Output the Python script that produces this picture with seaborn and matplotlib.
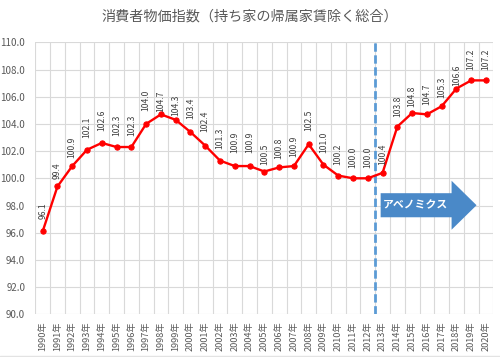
import matplotlib
matplotlib.use("Agg")
import matplotlib.pyplot as plt
import seaborn as sns
import numpy as np
import pandas as pd
from matplotlib.patches import FancyArrow

# ---- data ----
years = [f"{y}年" for y in range(1990, 2021)]
cpi = [96.1, 99.4, 100.9, 102.1, 102.6, 102.3, 102.3, 104.0, 104.7, 104.3,
       103.4, 102.4, 101.3, 100.9, 100.9, 100.5, 100.8, 100.9, 102.5, 101.0,
       100.2, 100.0, 100.0, 100.4, 103.8, 104.8, 104.7, 105.3, 106.6, 107.2, 107.2]
title = "消費者物価指数（持ち家の帰属家賃除く総合）"
arrow_text = "アベノミクス"
y_ticks = [90, 92, 94, 96, 98, 100, 102, 104, 106, 108, 110]

# ---- layout / style (label gaps in px above points) ----
label_gaps_px = [12.7, 7, 8, 11.7, 12, 10.7, 10.7, 13, 2.6, 4, 12.7, 14, 11.7, 12.7,
                 13, 7, 8, 9, 13, 12, 11, 10.7, 10.7, 8, 10, 6, 9, 8.7, 2.7, 10, 10]

df = pd.DataFrame({"year": years, "cpi": cpi})

sns.set_style("white")
plt.rcParams['font.family'] = ['Noto Sans CJK JP', 'DejaVu Sans']

fig = plt.figure(figsize=(5, 3.57), dpi=100)
ax = fig.add_axes([0.0706, 0.1196, 0.9162, 0.7619])

sns.lineplot(data=df, x="year", y="cpi", sort=False, ax=ax, color="#FF0000",
             linewidth=1.7, marker="o", markersize=3.8, markeredgecolor="#FF0000",
             markerfacecolor="#FF0000", zorder=4)

n = len(years)
ax.set_xlim(-0.5, n - 0.5)
ax.set_ylim(90, 110)
ax.set_yticks(y_ticks)
ax.set_yticklabels([f"{v:.1f}" for v in y_ticks])
ax.set_xticks(range(n))
ax.set_xticklabels(years, rotation=90)
ax.set_xlabel("")
ax.set_ylabel("")

# gridlines
for b in np.arange(-0.5, n, 1.0):
    ax.axvline(b, color="#D9D9D9", linewidth=0.8, zorder=0)
for t in y_ticks:
    ax.axhline(t, color="#D9D9D9", linewidth=0.8, zorder=0)

for s in ax.spines.values():
    s.set_visible(False)
ax.tick_params(axis="both", length=0)
ax.tick_params(axis="y", labelsize=7.0, labelcolor="#595959", pad=7.3)
ax.tick_params(axis="x", labelsize=6.6, labelcolor="#595959", pad=5.3)

# data labels
for i, (v, g) in enumerate(zip(cpi, label_gaps_px)):
    ax.annotate(f"{v:.1f}", (i, v), xytext=(0, g * 0.72), textcoords="offset points",
                rotation=90, ha="center", va="bottom", fontsize=6.2, color="#404040",
                zorder=5)

# Abenomics dashed line between 2012 and 2013
split = years.index("2013年") - 0.5
ax.axvline(split, color="#5B9BD5", linewidth=2.0, linestyle=(0, (3, 1.3)), zorder=3)

# arrow
arr = FancyArrow(22.87, 98.02, 6.49, 0, width=1.77, head_width=3.6, head_length=1.69,
                 length_includes_head=True, color="#4A89C8", linewidth=0, zorder=3)
ax.add_patch(arr)
ax.text(25.2, 98.02, arrow_text, ha="center", va="center", fontsize=7.8,
        fontweight="bold", color="white", zorder=4)

fig.text(0.5, 1 - 17 / 357, title, ha="center", va="center", fontsize=10.2, color="#595959")

# faint chart border at bottom
fig.add_artist(plt.Line2D([0, 1], [1.5 / 357, 1.5 / 357], transform=fig.transFigure,
                          color="#E3E3E3", linewidth=1.0))

fig.savefig("out.png", dpi=100)
